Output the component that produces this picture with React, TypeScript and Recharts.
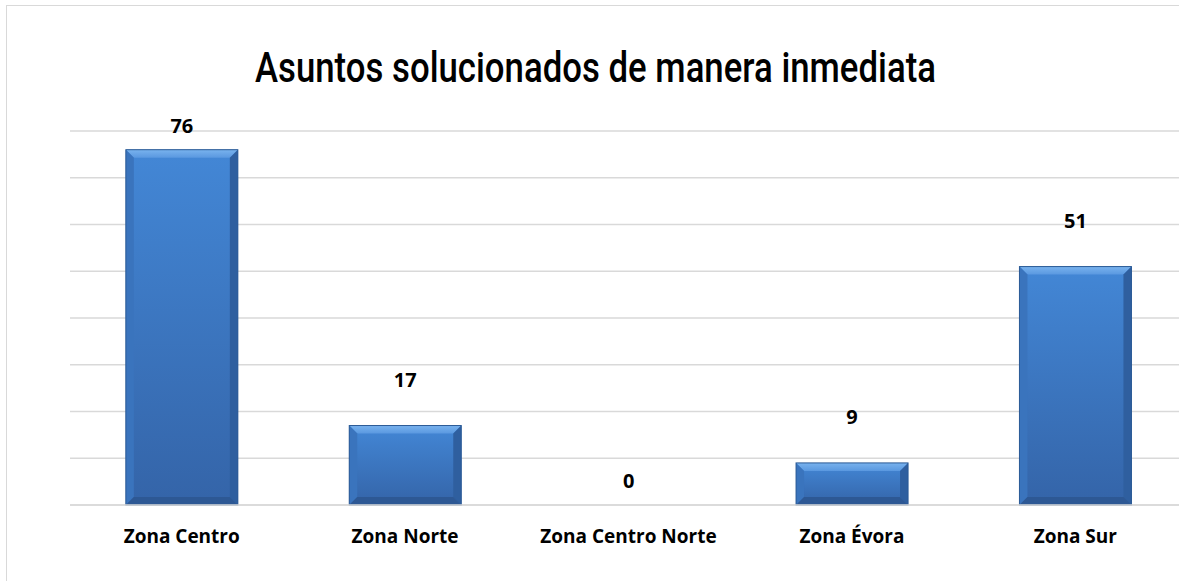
import React from 'react'
import { BarChart, Bar, XAxis, YAxis, CartesianGrid, LabelList } from 'recharts'

const zonas = ['Zona Centro', 'Zona Norte', 'Zona Centro Norte', 'Zona Évora', 'Zona Sur']
const asuntos = [76, 17, 0, 9, 51]
const gridTicks = [0, 10, 20, 30, 40, 50, 60, 70, 80]
const titulo = 'Asuntos solucionados de manera inmediata'

const data = zonas.map((zona, i) => ({ zona, asuntos: asuntos[i] }))

const labelFont = "'Open Sans', Lato, sans-serif"

function BevelBar(props: any) {
  const { x, y, width, height } = props
  if (!height || height <= 0) return null
  const b = Math.min(8, height / 2)
  return (
    <g>
      <rect x={x} y={y} width={width} height={height} fill="url(#barFill)" />
      <polygon points={`${x},${y} ${x + width},${y} ${x + width - b},${y + b} ${x + b},${y + b}`} fill="url(#bevelTop)" />
      <polygon points={`${x},${y} ${x + b},${y + b} ${x + b},${y + height - b} ${x},${y + height}`} fill="#3a74bd" />
      <polygon points={`${x + width},${y} ${x + width - b},${y + b} ${x + width - b},${y + height - b} ${x + width},${y + height}`} fill="#2f5f9f" />
      <polygon points={`${x},${y + height} ${x + b},${y + height - b} ${x + width - b},${y + height - b} ${x + width},${y + height}`} fill="#2d5894" />
      <rect x={x} y={y} width={width} height={height} fill="none" stroke="#2b5a95" strokeWidth={1} />
    </g>
  )
}

// Excel-style outside-end labels, kept inside the plot's top edge
function ValueLabel(props: any) {
  const { x, y, width, height, value } = props
  const cy = height > 0 ? y - 46 : y - 25
  return (
    <text
      x={x + width / 2}
      y={Math.max(cy, 119)}
      textAnchor="middle"
      dominantBaseline="central"
      fontFamily={labelFont}
      fontWeight={700}
      fontSize={20}
      fill="#000"
    >
      {value}
    </text>
  )
}

function ZoneTick(props: any) {
  const { x, y, payload } = props
  return (
    <text
      x={x}
      y={y + 23}
      textAnchor="middle"
      dominantBaseline="central"
      fontFamily={labelFont}
      fontWeight={700}
      fontSize={19}
      fill="#000"
    >
      {payload.value}
    </text>
  )
}

export default function App() {
  return (
    <div style={{ position: 'fixed', left: 0, top: 0, width: 1179, height: 581, overflow: 'hidden', background: '#fff' }}>
      <div
        style={{
          position: 'absolute',
          left: 6,
          top: 5,
          width: 1190,
          height: 600,
          border: '1px solid #d9d9d9',
        }}
      >
        <svg width={1188} height={100} style={{ position: 'absolute', left: 0, top: 0 }}>
          <text
            x={588.5}
            y={76}
            textAnchor="middle"
            fontFamily="Roboto, sans-serif"
            fontWeight={500}
            fontSize={42}
            textLength={681}
            lengthAdjust="spacingAndGlyphs"
            fill="#000"
          >
            {titulo}
          </text>
        </svg>
        <BarChart
          width={1188}
          height={590}
          data={data}
          margin={{ top: 125, right: 8, bottom: 61, left: 63 }}
          barCategoryGap="25%"
        >
          <defs>
            <linearGradient id="barFill" x1="0" y1="0" x2="0" y2="1">
              <stop offset="0%" stopColor="#4387d6" />
              <stop offset="100%" stopColor="#3464a8" />
            </linearGradient>
            <linearGradient id="bevelTop" x1="0" y1="0" x2="0" y2="1">
              <stop offset="0%" stopColor="#79b3ee" />
              <stop offset="100%" stopColor="#5a98e0" />
            </linearGradient>
          </defs>
          <CartesianGrid horizontal vertical={false} stroke="#d9d9d9" strokeWidth={1.5} />
          <XAxis
            dataKey="zona"
            axisLine={{ stroke: '#d9d9d9', strokeWidth: 1.5 }}
            tickLine={false}
            tick={<ZoneTick />}
            interval={0}
            height={30}
          />
          <YAxis hide domain={[0, 80]} ticks={gridTicks} />
          <Bar dataKey="asuntos" shape={<BevelBar />} isAnimationActive={false}>
            <LabelList dataKey="asuntos" content={<ValueLabel />} />
          </Bar>
        </BarChart>
      </div>
    </div>
  )
}
